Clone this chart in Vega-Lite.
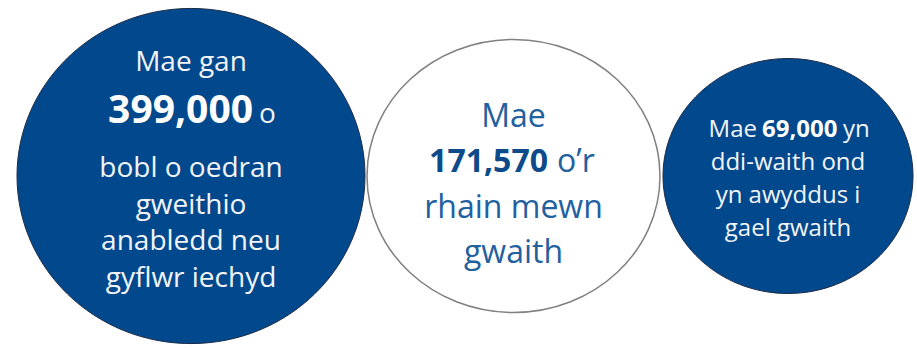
{
  "$schema": "https://vega.github.io/schema/vega-lite/v6.json",
  "padding": 0,
  "background": "white",
  "bounds": "flush",
  "config": {"view": {"stroke": null}, "concat": {"spacing": 0}, "text": {"font": "Open Sans"}},
  "datasets": {
    "circles": [
      {"circle": "left", "intro": "Mae gan", "number": "399,000", "after": "o", "rest": ["bobl o oedran", "gweithio", "anabledd neu", "gyflwr iechyd"]},
      {"circle": "middle", "intro": "Mae", "number": "171,570", "after": "o’r", "rest": ["rhain mewn", "gwaith"]},
      {"circle": "right", "intro": "Mae", "number": "69,000", "after": "yn", "rest": ["ddi-waith ond", "yn awyddus i", "gael gwaith"]}
    ]
  },
  "spacing": 0,
  "hconcat": [
    {
      "width": 382, "height": 352,
      "data": {"name": "circles"},
      "transform": [{"filter": "datum.circle == 'left'"}],
      "layer": [
        {"mark": {"type": "point", "shape": "M-1,0A1,0.963,0,1,1,1,0A1,0.963,0,1,1,-1,0Z", "size": 121104, "filled": true, "fill": "#02488c", "stroke": "#1c2c48", "strokeWidth": 1, "opacity": 1}, "encoding": {}},
        {"mark": {"type": "text", "fontSize": 28, "color": "#f2f4f8", "baseline": "alphabetic", "align": "center", "dy": -105}, "encoding": {"text": {"field": "intro", "type": "nominal"}}},
        {"mark": {"type": "text", "fontSize": 39, "fontWeight": "bold", "color": "#ffffff", "baseline": "alphabetic", "align": "right", "dx": 62, "dy": -53}, "encoding": {"text": {"field": "number", "type": "nominal"}}},
        {"mark": {"type": "text", "fontSize": 28, "color": "#f2f4f8", "baseline": "alphabetic", "align": "left", "dx": 68, "dy": -53}, "encoding": {"text": {"field": "after", "type": "nominal"}}},
        {"mark": {"type": "text", "fontSize": 28, "color": "#f2f4f8", "baseline": "alphabetic", "align": "center", "dy": 1, "lineHeight": 36.7}, "encoding": {"text": {"field": "rest", "type": "nominal"}}}
      ]
    },
    {
      "width": 263, "height": 352,
      "data": {"name": "circles"},
      "transform": [{"filter": "datum.circle == 'middle'"}],
      "layer": [
        {"mark": {"type": "point", "shape": "M-1,0A1,0.932,0,1,1,1,0A1,0.932,0,1,1,-1,0Z", "size": 85849, "filled": true, "fill": "#ffffff", "stroke": "#808080", "strokeWidth": 1.5, "opacity": 1}, "encoding": {}},
        {"mark": {"type": "text", "fontSize": 32, "color": "#2260a0", "baseline": "alphabetic", "align": "center", "dy": -49}, "encoding": {"text": {"field": "intro", "type": "nominal"}}},
        {"mark": {"type": "text", "fontSize": 32, "fontWeight": "bold", "color": "#0d4a8a", "baseline": "alphabetic", "align": "right", "dx": 34.5, "dy": -4}, "encoding": {"text": {"field": "number", "type": "nominal"}}},
        {"mark": {"type": "text", "fontSize": 32, "color": "#2260a0", "baseline": "alphabetic", "align": "left", "dx": 43.5, "dy": -4}, "encoding": {"text": {"field": "after", "type": "nominal"}}},
        {"mark": {"type": "text", "fontSize": 32, "color": "#2260a0", "baseline": "alphabetic", "align": "center", "dy": 42, "lineHeight": 45}, "encoding": {"text": {"field": "rest", "type": "nominal"}}}
      ]
    },
    {
      "width": 286, "height": 352,
      "data": {"name": "circles"},
      "transform": [{"filter": "datum.circle == 'right'"}],
      "layer": [
        {"mark": {"type": "point", "shape": "M-1,0A1,0.94,0,1,1,1,0A1,0.94,0,1,1,-1,0Z", "size": 62500, "filled": true, "fill": "#02488c", "stroke": "#1c2c48", "strokeWidth": 1, "opacity": 1}, "encoding": {}},
        {"mark": {"type": "text", "fontSize": 24, "color": "#f2f4f8", "baseline": "alphabetic", "align": "right", "dx": -31, "dy": -39}, "encoding": {"text": {"field": "intro", "type": "nominal"}}},
        {"mark": {"type": "text", "fontSize": 24, "fontWeight": "bold", "color": "#ffffff", "baseline": "alphabetic", "align": "left", "dx": -26, "dy": -39}, "encoding": {"text": {"field": "number", "type": "nominal"}}},
        {"mark": {"type": "text", "fontSize": 24, "color": "#f2f4f8", "baseline": "alphabetic", "align": "left", "dx": 55, "dy": -39}, "encoding": {"text": {"field": "after", "type": "nominal"}}},
        {"mark": {"type": "text", "fontSize": 24, "color": "#f2f4f8", "baseline": "alphabetic", "align": "center", "dy": -6, "lineHeight": 33}, "encoding": {"text": {"field": "rest", "type": "nominal"}}}
      ]
    }
  ]
}
